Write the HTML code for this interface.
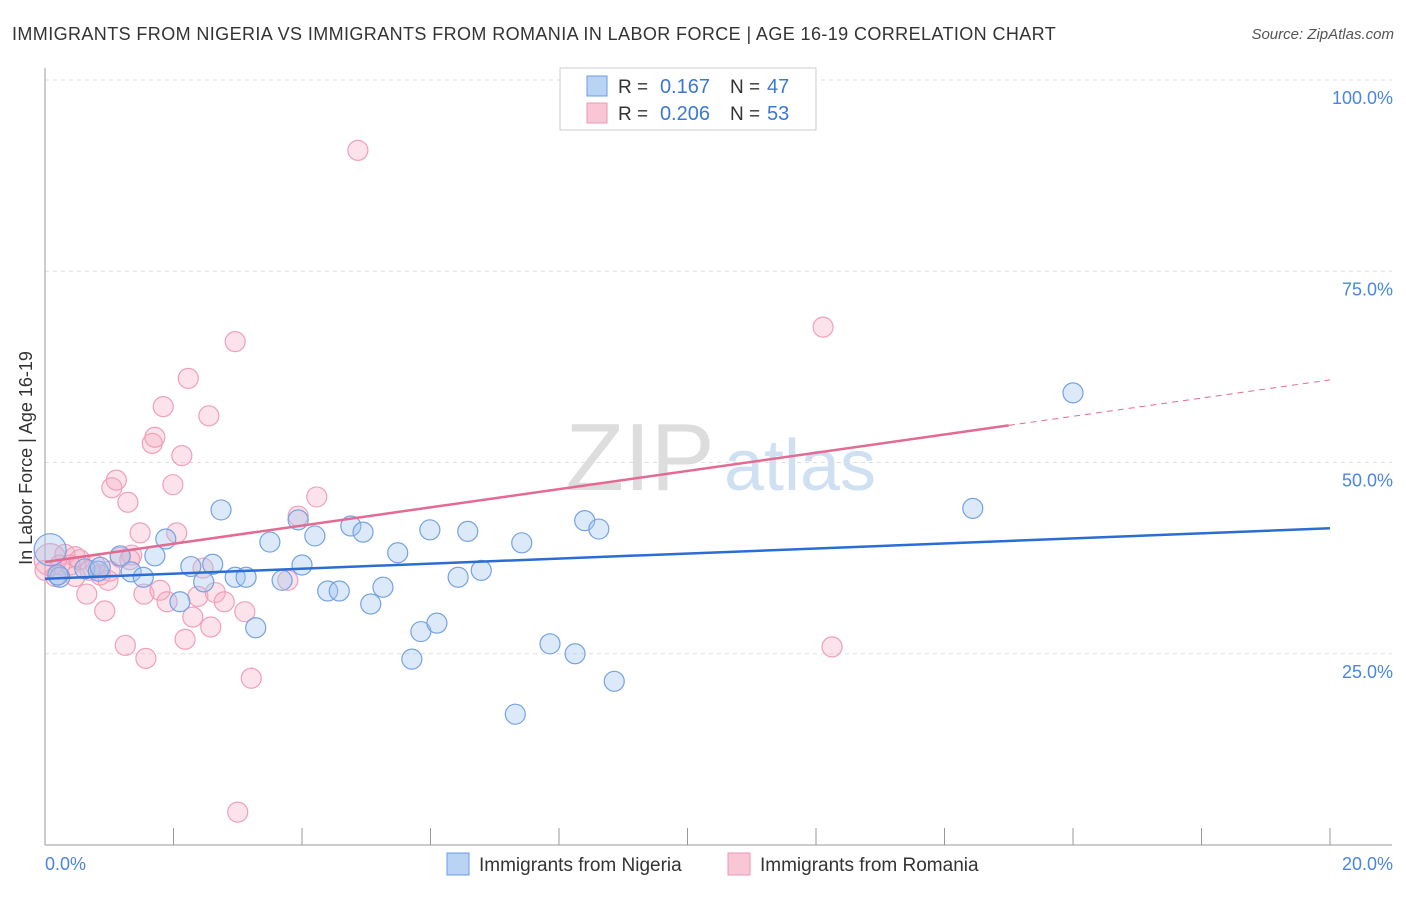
<!DOCTYPE html>
<html><head><meta charset="utf-8">
<style>
body{margin:0;background:#fff;font-family:"Liberation Sans",sans-serif;}
svg text{font-family:"Liberation Sans",sans-serif;}
</style></head>
<body>
<svg id="chart" width="1406" height="892" xmlns="http://www.w3.org/2000/svg">
<text x="12" y="40" font-size="18" fill="#333" letter-spacing="0.4">IMMIGRANTS FROM NIGERIA VS IMMIGRANTS FROM ROMANIA IN LABOR FORCE | AGE 16-19 CORRELATION CHART</text>
<text x="1394" y="39" font-size="15" fill="#555" font-style="italic" text-anchor="end">Source: ZipAtlas.com</text>
<text x="640" y="490" font-size="96" fill="#ddd" font-family="Liberation Serif" text-anchor="middle">ZIP</text>
<text x="800" y="490" font-size="72" fill="#cfe0f3" text-anchor="middle">atlas</text>
<g id="grid"></g>
<g id="axes"></g>
<g id="marks"></g>
<text x="32" y="458" font-size="18" fill="#333" transform="rotate(-90 32 458)" text-anchor="middle">In Labor Force | Age 16-19</text>
<g>
<rect x="560" y="68" width="256" height="62" fill="#fff" stroke="#ccc"/>
<rect x="587" y="76" width="20" height="20" fill="#b9d3f5" stroke="#6b9be0"/>
<rect x="587" y="103" width="20" height="20" fill="#f9c6d6" stroke="#eb96b4"/>
<text x="618" y="93" font-size="19" fill="#333">R =</text>
<text x="710" y="93" font-size="20" fill="#3a78d4" text-anchor="end">0.167</text>
<text x="730" y="93" font-size="19" fill="#333">N =</text>
<text x="767" y="93" font-size="20" fill="#3a78d4">47</text>
<text x="618" y="120" font-size="19" fill="#333">R =</text>
<text x="710" y="120" font-size="20" fill="#3a78d4" text-anchor="end">0.206</text>
<text x="730" y="120" font-size="19" fill="#333">N =</text>
<text x="767" y="120" font-size="20" fill="#3a78d4">53</text>
</g>
<g>
<rect x="447" y="853" width="22" height="22" fill="#b9d3f5" stroke="#6b9be0"/>
<text x="479" y="871" font-size="19" fill="#333">Immigrants from Nigeria</text>
<rect x="728" y="853" width="22" height="22" fill="#f9c6d6" stroke="#eb96b4"/>
<text x="760" y="871" font-size="19" fill="#333">Immigrants from Romania</text>
</g>
</svg>
<script>
const yTicks=[25,50,75,100];
const yTickLabels=["25.0%","50.0%","75.0%","100.0%"];
const xTicks=[0,2,4,6,8,10,12,14,16,18,20];
const nigeriaX=[0.08,0.23,0.62,0.83,1.17,1.34,1.53,1.71,1.88,2.10,2.27,2.47,2.61,2.74,2.96,3.13,3.28,3.50,3.69,3.94,4.00,4.20,4.40,4.58,4.76,4.95,5.07,5.26,5.49,5.71,5.85,5.99,6.10,6.43,6.58,6.79,7.32,7.42,7.86,8.25,8.40,8.62,8.86,14.44,16.00,0.20,0.86];
const nigeriaY=[38.6,35.0,36.1,35.8,37.8,35.7,35.0,37.8,40.0,31.8,36.4,34.4,36.7,43.8,35.0,35.0,28.4,39.6,34.6,42.5,36.6,40.4,33.2,33.2,41.7,40.9,31.5,33.7,38.2,24.3,27.9,41.2,29.0,35.0,41.0,35.9,17.1,39.5,26.3,25.0,42.4,41.3,21.4,44.0,59.1,35.3,36.3];
const romaniaX=[0.08,0.16,0.31,0.47,0.65,0.78,0.93,1.01,1.04,1.11,1.25,1.29,1.35,1.48,1.57,1.54,1.67,1.71,1.79,1.84,1.90,1.99,2.05,2.13,2.18,2.23,2.30,2.38,2.46,2.55,2.58,2.65,2.79,2.96,3.00,3.11,3.21,3.78,3.94,4.23,4.87,12.11,12.25,0.39,0.54,0.86,1.17,0.23,0.70,0.47,1.32,0.98,0.0];
const romaniaY=[37.3,35.1,38.0,37.7,32.8,36.6,30.6,35.8,46.7,47.7,26.1,44.8,37.9,40.8,24.4,32.8,52.5,53.3,33.3,57.3,31.8,47.1,40.8,50.9,26.9,61.0,29.8,32.5,36.2,56.1,28.5,33.0,31.8,65.8,4.3,30.5,21.8,34.6,43.0,45.5,90.8,67.7,25.9,36.6,37.3,35.3,37.6,36.6,35.9,35.1,37.3,34.6,35.9];
const nigeriaTrend=[34.8,41.4];
const romaniaTrend=[37.0,60.8];
const romaniaSolidEnd=15.0;
const NS="http://www.w3.org/2000/svg";
const X=v=>45+v/20*1285, Y=v=>845-v/100*765;
function mk(t,a,p){const e=document.createElementNS(NS,t);for(const k in a)e.setAttribute(k,a[k]);p.appendChild(e);return e;}
const grid=document.getElementById('grid'),axes=document.getElementById('axes'),marks=document.getElementById('marks');
yTicks.forEach((t,i)=>{
 const l=mk('line',{x1:45,x2:1392,y1:Y(t),y2:Y(t),stroke:'#ddd','stroke-dasharray':'4,4'},grid);
 
 
 const tx=mk('text',{x:1393,y:Y(t)+24,'font-size':18,fill:'#4a86dc','text-anchor':'end'},axes);
 tx.textContent=yTickLabels[i];
 
 
});
let ax=mk('line',{x1:45,x2:45,y1:68,y2:845,stroke:'#999'},axes);


ax=mk('line',{x1:45,x2:1392,y1:845,y2:845,stroke:'#999'},axes);


xTicks.forEach(t=>{const l=mk('line',{x1:X(t),x2:X(t),y1:828,y2:845,stroke:'#999'},axes);
 
 });
let t0=mk('text',{x:45,y:870,'font-size':18,fill:'#4a86dc'},axes);t0.textContent='0.0%';


t0=mk('text',{x:1393,y:870,'font-size':18,fill:'#4a86dc','text-anchor':'end'},axes);t0.textContent='20.0%';


function pts(xs,ys,fill,stroke,name){xs.forEach((x,i)=>{const r=i===0?16:10;
 const c=mk('circle',{cx:X(x),cy:Y(ys[i]),r:r,fill:fill,stroke:stroke,'stroke-width':1.2},marks);
 
 });}
pts(romaniaX,romaniaY,'rgba(245,170,195,0.33)','#ef9fba','romania-point');
pts(nigeriaX,nigeriaY,'rgba(160,196,240,0.38)','#76a2e0','nigeria-point');
let tl=mk('line',{x1:X(0),y1:Y(nigeriaTrend[0]),x2:X(20),y2:Y(nigeriaTrend[1]),stroke:'#2a6dd4','stroke-width':2.5},marks);


const ry=x=>romaniaTrend[0]+(romaniaTrend[1]-romaniaTrend[0])*x/20;
tl=mk('line',{x1:X(0),y1:Y(ry(0)),x2:X(romaniaSolidEnd),y2:Y(ry(romaniaSolidEnd)),stroke:'#e46a92','stroke-width':2.5},marks);


tl=mk('line',{x1:X(romaniaSolidEnd),y1:Y(ry(romaniaSolidEnd)),x2:X(20),y2:Y(ry(20)),stroke:'#e46a92','stroke-width':1,'stroke-dasharray':'6,5'},marks);


</script>
</body></html>
